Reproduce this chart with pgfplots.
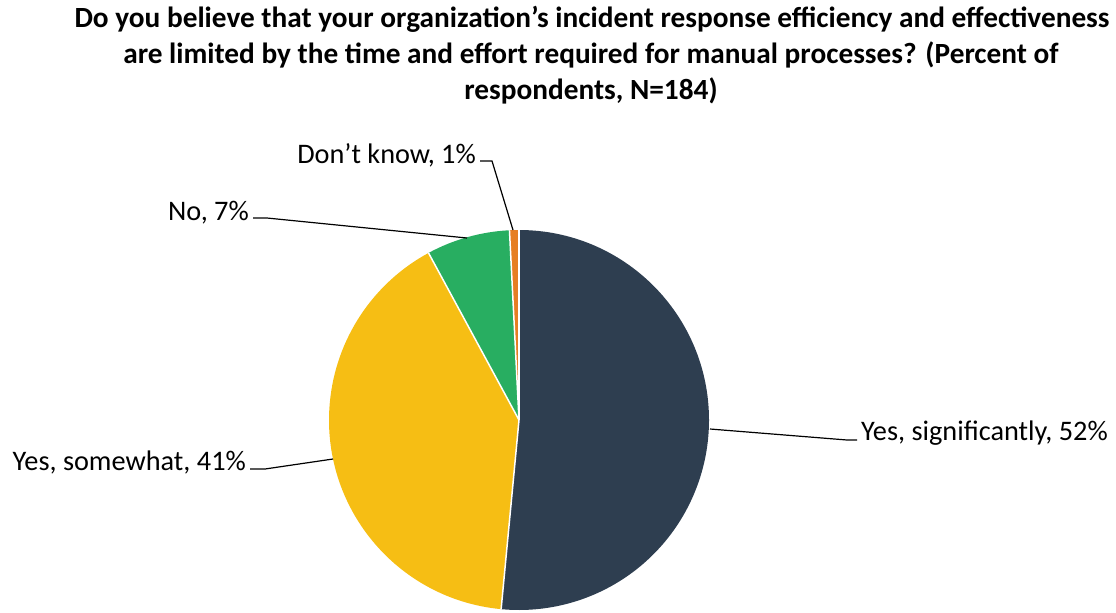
\documentclass[border=0pt]{standalone}
\usepackage{fontspec}
\setmainfont{Carlito}
\usepackage{pgfplots}
\pgfplotsset{compat=1.18}
\definecolor{cnavy}{HTML}{2E3E50}
\definecolor{cyellow}{HTML}{F6BE14}
\definecolor{cgreen}{HTML}{28AE61}
\definecolor{corange}{HTML}{E67E22}
\begin{document}
\begin{tikzpicture}
\begin{axis}[
  width=1116bp, height=609bp, scale only axis,
  xmin=0, xmax=1116, ymin=0, ymax=609, y dir=reverse,
  hide axis, clip=false,
]
% invisible frame so the page is exactly the axis box
\path (axis cs:0,0) rectangle (axis cs:1116,609);
% shares (percent), drawn clockwise from 12 o'clock
% Yes, significantly 51.5 ; Yes, somewhat 40.6 ; No 7.1 ; Don't know 0.8
\fill[cnavy] (axis cs:519,420) -- ++(90:190bp)
  arc[start angle=90, delta angle=-51.5*3.6, radius=190bp] -- cycle;
\fill[cyellow] (axis cs:519,420) -- ++({90-51.5*3.6}:190bp)
  arc[start angle={90-51.5*3.6}, delta angle=-40.6*3.6, radius=190bp] -- cycle;
\fill[cgreen] (axis cs:519,420) -- ++({90-(51.5+40.6)*3.6}:190bp)
  arc[start angle={90-(51.5+40.6)*3.6}, delta angle=-7.1*3.6, radius=190bp] -- cycle;
\fill[corange] (axis cs:519,420) -- ++({90-(51.5+40.6+7.1)*3.6}:190bp)
  arc[start angle={90-(51.5+40.6+7.1)*3.6}, delta angle=-0.8*3.6, radius=190bp] -- cycle;
% white separators
\draw[white, line width=1.5bp] (axis cs:519,420) -- ++(90:190bp);
\draw[white, line width=1.5bp] (axis cs:519,420) -- ++({90-51.5*3.6}:190bp);
\draw[white, line width=1.5bp] (axis cs:519,420) -- ++({90-(51.5+40.6)*3.6}:190bp);
\draw[white, line width=1.5bp] (axis cs:519,420) -- ++({90-(51.5+40.6+7.1)*3.6}:190bp);
% leader lines
\draw[black, line width=1.2bp] (axis cs:710,429) -- (axis cs:847,440) -- (axis cs:857,440);
\draw[black, line width=1.2bp] (axis cs:333,459) -- (axis cs:265,469) -- (axis cs:250,469);
\draw[black, line width=1.2bp] (axis cs:467,238) -- (axis cs:267,218) -- (axis cs:253,218);
\draw[black, line width=1.2bp] (axis cs:513,230) -- (axis cs:492,161) -- (axis cs:480,161);
% labels
\node[anchor=base west, inner sep=0pt, font=\fontsize{28.3bp}{34bp}\selectfont] at (axis cs:861,440) {Yes, significantly, 52\%};
\node[anchor=base east, inner sep=0pt, font=\fontsize{28.3bp}{34bp}\selectfont] at (axis cs:246,470) {Yes, somewhat, 41\%};
\node[anchor=base east, inner sep=0pt, font=\fontsize{28.3bp}{34bp}\selectfont] at (axis cs:249,220) {No, 7\%};
\node[anchor=base east, inner sep=0pt, font=\fontsize{28.3bp}{34bp}\selectfont] at (axis cs:476,163) {Don’t know, 1\%};
% title
\node[anchor=base, inner sep=0pt, font=\fontsize{29.3bp}{36bp}\selectfont\bfseries] at (axis cs:592,27) {Do you believe that your organization’s incident response efficiency and effectiveness};
\node[anchor=base, inner sep=0pt, font=\fontsize{29.3bp}{36bp}\selectfont\bfseries] at (axis cs:591,63) {are limited by the time and effort required for manual processes? (Percent of};
\node[anchor=base, inner sep=0pt, font=\fontsize{29.3bp}{36bp}\selectfont\bfseries] at (axis cs:591,99) {respondents, N=184)};
\end{axis}
\end{tikzpicture}
\end{document}
